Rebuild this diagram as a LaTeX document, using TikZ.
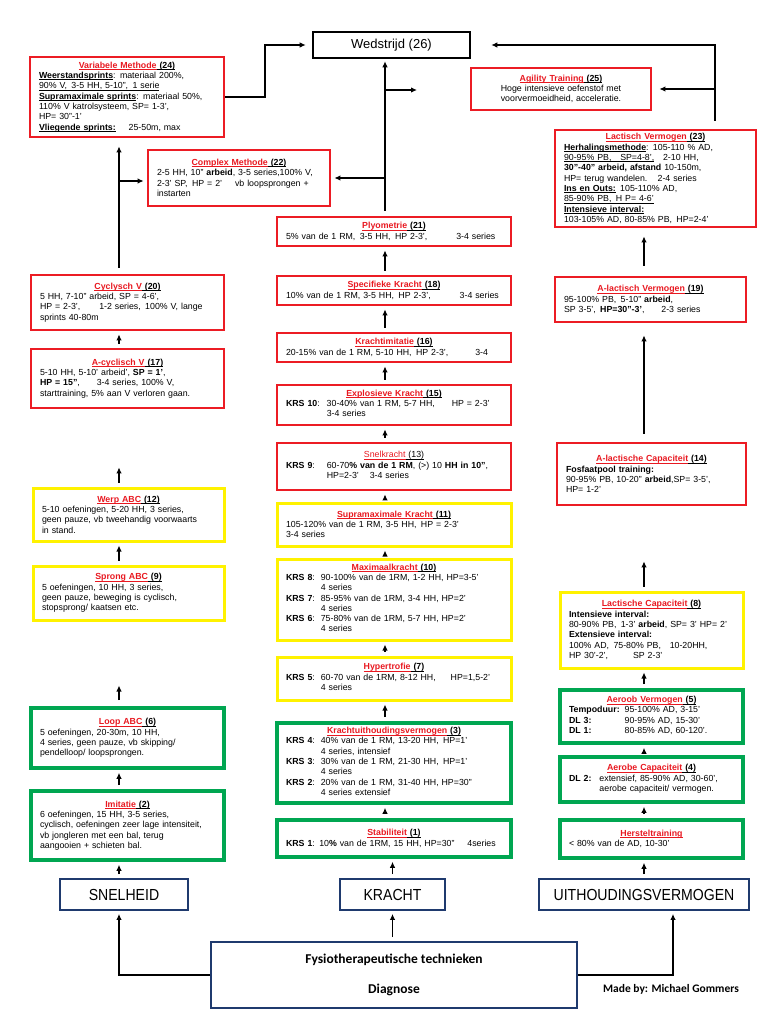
\documentclass[tikz,border=0pt]{standalone}
\usepackage{fontspec}
\setmainfont{Liberation Sans}
\newfontfamily\calibri{Carlito}
\usetikzlibrary{arrows.meta,positioning}
\definecolor{tred}{RGB}{232,24,32}
\definecolor{bred}{RGB}{236,28,36}
\definecolor{byel}{RGB}{255,242,0}
\definecolor{bgrn}{RGB}{0,166,81}
\definecolor{bblu}{RGB}{31,58,110}
\tikzset{
  box/.style={
    draw,
    shape = rectangle,
    inner xsep = 9pt,
    inner ysep = 1pt,
    align = left,
    font = \fontsize{8.8}{10.3}\selectfont
  },
  rbox/.style={box, draw=bred, line width=2.8pt},
  ybox/.style={box, draw=byel, line width=3pt},
  gbox/.style={box, draw=bgrn, line width=3.6pt},
  basebox/.style={
    draw = bblu,
    line width = 1.8pt,
    font = \fontsize{16}{18}\selectfont
  },
  topbox/.style={
    draw,
    line width = 2.6pt,
    font = \fontsize{13}{15}\selectfont
  },
  arr/.style={
    -{Latex[length=6pt,width=5.5pt]},
    line width = 1.1pt,
    shorten <= 4pt,
    shorten >= 3pt
  }
}
\newcommand{\ulc}[1]{\leavevmode\setbox0\hbox{#1}\rlap{\rule[-1.4pt]{\wd0}{0.6pt}}\box0}
\newcommand{\ttl}[2]{\centerline{\textcolor{tred}{\ulc{\bfseries #1}}\ulc{\textbf{\ (#2)}}}}
\newcommand{\hd}[1]{\ulc{\textbf{#1}}}
\newcommand{\narrow}[1]{\scalebox{0.88}[1]{#1}}
\begin{document}
\begin{tikzpicture}[x=1pt,y=-1pt]
    \useasboundingbox (0,0) rectangle (768,1024);
    \coordinate (lx) at (119,0);
    \coordinate (mx) at (385,0);
    \coordinate (rx) at (644,0);
    \coordinate (ux) at (673,0);
    % top
    \node[topbox, minimum width=157, minimum height=26] (wed) at (391.5,45) {Wedstrijd (26)};
    \node[rbox, minimum width=194, minimum height=80, text width=176pt] (varm) at (127,97) {\ttl{Variabele Methode}{24}
      \hd{Weerstandsprints}:\enspace materiaal 200\%,\\
      \ulc{90\% V,\enspace 3-5 HH, 5-10'',\enspace 1 serie}\\
      \hd{Supramaximale sprints}:\enspace materiaal 50\%,\\
      110\% V katrolsysteem, SP= 1-3',\\
      HP= 30''-1'\\
      \hd{Vliegende sprints:}\hspace{10pt} 25-50m, max};
    \node[rbox, minimum width=182, minimum height=56, text width=164pt] (cplx) at (239,178) {\ttl{Complex Methode}{22}
      2-5 HH, 10'' \textbf{arbeid}, 3-5 series,100\% V,\\
      2-3' SP,\, HP = 2'\hspace{10pt} vb loopsprongen +\\
      instarten};
    \node[rbox, align=center, minimum width=180, minimum height=42, text width=162pt] (agil) at (561,89) {\ttl{Agility Training}{25}
      Hoge intensieve oefenstof met\\
      voorvermoeidheid, acceleratie.};
    \node[rbox, minimum width=201, minimum height=97, text width=183pt] (lacv) at (655.5,178.5) {\ttl{Lactisch Vermogen}{23}
      \hd{Herhalingsmethode}: 105-110 \% AD,\\
      \ulc{90-95\% PB,\enspace\, SP=4-8',}\enspace\, 2-10 HH,\\
      \textbf{30''-40'' arbeid, afstand} 10-150m,\\
      HP= terug wandelen.\enspace\, 2-4 series\\
      \hd{Ins en Outs:}\, 105-110\% AD,\\
      \ulc{85-90\% PB,\enspace H P= 4-6'}\\
      \hd{Intensieve interval:}\\
      103-105\% AD, 80-85\% PB,\enspace HP=2-4'};
    % left column
    \node[rbox, minimum width=193, minimum height=55, text width=175pt] (cyc) at (127.5,302.5) {\ttl{Cyclysch V}{20}
      5 HH, 7-10'' arbeid, SP = 4-6',\\
      HP = 2-3',\hspace{16pt} 1-2 series,\, 100\% V, lange\\
      sprints 40-80m};
    \node[rbox, minimum width=193, minimum height=59, text width=175pt] (acyc) at (127.5,378.5) {\ttl{A-cyclisch V}{17}
      5-10 HH, 5-10' arbeid', \textbf{SP = 1'},\\
      \textbf{HP = 15''},\hspace{14pt} 3-4 series, 100\% V,\\
      starttraining, 5\% aan V verloren gaan.};
    \node[ybox, minimum width=191, minimum height=53, text width=173pt] (werp) at (128.5,514.5) {\ttl{Werp ABC}{12}
      5-10 oefeningen, 5-20 HH, 3 series,\\
      geen pauze, vb tweehandig voorwaarts\\
      in stand.};
    \node[ybox, minimum width=191, minimum height=54, text width=173pt] (sprong) at (128.5,593) {\ttl{Sprong ABC}{9}
      5 oefeningen, 10 HH, 3 series,\\
      geen pauze, beweging is cyclisch,\\
      stopsprong/ kaatsen etc.};
    \node[gbox, minimum width=193, minimum height=60, text width=175pt] (loop) at (127.5,738) {\ttl{Loop ABC}{6}
      5 oefeningen, 20-30m, 10 HH,\\
      4 series, geen pauze, vb skipping/\\
      pendelloop/ loopsprongen.};
    \node[gbox, minimum width=193, minimum height=69, text width=175pt] (imit) at (127.5,825.5) {\ttl{Imitatie}{2}
      6 oefeningen, 15 HH, 3-5 series,\\
      cyclisch, oefeningen zeer lage intensiteit,\\
      vb jongleren met een bal, terug\\
      aangooien + schieten bal.};
    % middle column
    \node[rbox, minimum width=234, minimum height=29, text width=216pt] (plyo) at (394,231.5) {\ttl{Plyometrie}{21}
      5\% van de 1 RM,\, 3-5 HH,\, HP 2-3',\hspace{26pt} 3-4 series};
    \node[rbox, minimum width=234, minimum height=29, text width=216pt] (spec) at (394,290.5) {\ttl{Specifieke Kracht}{18}
      10\% van de 1 RM, 3-5 HH,\, HP 2-3',\hspace{26pt} 3-4 series};
    \node[rbox, minimum width=234, minimum height=29, text width=216pt] (kimit) at (394,347.5) {\ttl{Krachtimitatie}{16}
      20-15\% van de 1 RM, 5-10 HH,\, HP 2-3',\hspace{24pt} 3-4};
    \node[rbox, minimum width=234, minimum height=40, text width=216pt] (expl) at (394,405) {\ttl{Explosieve Kracht}{15}
      \begin{tabular}{@{}l@{\hspace{7pt}}l@{}}
      \textbf{KRS 10}: & 30-40\% van 1 RM, 5-7 HH,\hspace{14pt} HP = 2-3'\\
       & 3-4 series
      \end{tabular}};
    \node[rbox, minimum width=234, minimum height=47, text width=216pt] (snelk) at (394,466.5) {\centerline{\textcolor{tred}{\ulc{Snelkracht}}\ulc{\ (13)}}
      \begin{tabular}{@{}l@{\hspace{12pt}}l@{}}
      \textbf{KRS 9}: & 60-70\textbf{\% van de 1 RM}, (>) 10 \textbf{HH in 10''},\\
       & HP=2-3'\hspace{8pt} 3-4 series
      \end{tabular}};
    \node[ybox, minimum width=234, minimum height=43, text width=216pt] (supra) at (394,524.5) {\ttl{Supramaximale Kracht}{11}
      105-120\% van de 1 RM, 3-5 HH,\, HP = 2-3'\\
      3-4 series};
    \node[ybox, minimum width=234, minimum height=81, text width=216pt] (maxk) at (394,599.5) {\ttl{Maximaalkracht}{10}
      \begin{tabular}{@{}l@{\hspace{6pt}}l@{}}
      \textbf{KRS 8}: & 90-100\% van de 1RM, 1-2 HH, HP=3-5'\\
       & 4 series\\
      \textbf{KRS 7}: & 85-95\% van de 1RM, 3-4 HH, HP=2'\\
       & 4 series\\
      \textbf{KRS 6}: & 75-80\% van de 1RM, 5-7 HH, HP=2'\\
       & 4 series
      \end{tabular}};
    \node[ybox, minimum width=234, minimum height=43, text width=216pt] (hyp) at (394,678.5) {\ttl{Hypertrofie}{7}
      \begin{tabular}{@{}l@{\hspace{6pt}}l@{}}
      \textbf{KRS 5}: & 60-70 van de 1RM, 8-12 HH,\hspace{12pt} HP=1,5-2'\\
       & 4 series
      \end{tabular}};
    \node[gbox, minimum width=234, minimum height=80, text width=216pt] (kuv) at (394,763) {\ttl{Krachtuithoudingsvermogen}{3}
      \begin{tabular}{@{}l@{\hspace{6pt}}l@{}}
      \textbf{KRS 4}: & 40\% van de 1 RM, 13-20 HH,\, HP=1'\\
       & 4 series, intensief\\
      \textbf{KRS 3}: & 30\% van de 1 RM, 21-30 HH,\, HP=1'\\
       & 4 series\\
      \textbf{KRS 2}: & 20\% van de 1 RM, 31-40 HH, HP=30''\\
       & 4 series extensief
      \end{tabular}};
    \node[gbox, minimum width=234, minimum height=37, text width=216pt] (stab) at (394,838.5) {\ttl{Stabiliteit}{1}
      \textbf{KRS 1}:\enspace 10\textbf{\%} van de 1RM, 15 HH, HP=30''\hspace{10pt} 4series};
    % right column
    \node[rbox, minimum width=191, minimum height=45, text width=173pt] (alv) at (650.5,299.5) {\ttl{A-lactisch Vermogen}{19}
      95-100\% PB,\enspace 5-10'' \textbf{arbeid},\\
      SP 3-5',\enspace \textbf{HP=30''-3'},\hspace{14pt} 2-3 series};
    \node[rbox, minimum width=189, minimum height=62, text width=171pt] (alc) at (651.5,474) {\ttl{A-lactische Capaciteit}{14}
      \textbf{Fosfaatpool training:}\\
      90-95\% PB, 10-20'' \textbf{arbeid},SP= 3-5',\\
      HP= 1-2'};
    \node[ybox, minimum width=183, minimum height=76, text width=165pt] (lc) at (651.5,630) {\ttl{Lactische Capaciteit}{8}
      \textbf{Intensieve interval:}\\
      80-90\% PB,\, 1-3' \textbf{arbeid}, SP= 3' HP= 2'\\
      \textbf{Extensieve interval:}\\
      100\% AD,\enspace 75-80\% PB,\enspace\, 10-20HH,\\
      HP 30'-2',\hspace{22pt} SP 2-3'};
    \node[gbox, minimum width=183, minimum height=53, text width=165pt] (aerv) at (651.5,716.5) {\ttl{Aeroob Vermogen}{5}
      \begin{tabular}{@{}l@{\hspace{5pt}}l@{}}
      \textbf{Tempoduur:} & 95-100\% AD, 3-15'\\
      \textbf{DL 3:} & 90-95\% AD, 15-30'\\
      \textbf{DL 1:} & 80-85\% AD, 60-120'.
      \end{tabular}};
    \node[gbox, minimum width=183, minimum height=45, text width=165pt] (aerc) at (651.5,779.5) {\ttl{Aerobe Capaciteit}{4}
      \begin{tabular}{@{}l@{\hspace{8pt}}l@{}}
      \textbf{DL 2:} & extensief, 85-90\% AD, 30-60',\\
       & aerobe capaciteit/ vermogen.
      \end{tabular}};
    \node[gbox, minimum width=183, minimum height=38, text width=165pt] (hers) at (651.5,839) {\centerline{\textcolor{tred}{\ulc{\bfseries Hersteltraining}}}
      < 80\% van de AD, 10-30'};
    % base
    \node[basebox, minimum width=128, minimum height=31] (snel) at (124,894.5) {\narrow{SNELHEID}};
    \node[basebox, minimum width=105, minimum height=31] (kr) at (392.5,894.5) {\narrow{KRACHT}};
    \node[basebox, minimum width=210, minimum height=31] (uit) at (644,894.5) {\narrow{UITHOUDINGSVERMOGEN}};
    \node[basebox, align=center, minimum width=366, minimum height=66, font=\calibri\bfseries\fontsize{13.5}{16}\selectfont] (fys) at (394,975) {Fysiotherapeutische technieken\\[14pt] Diagnose};
    \node[font=\calibri\bfseries\fontsize{11.5}{13}\selectfont] (made) at (671,989) {Made by: Michael Gommers};
    % connectors
    \foreach \a/\b in {stab/kuv, kuv/hyp, hyp/maxk, maxk/supra, supra/snelk, snelk/expl, expl/kimit, kimit/spec, spec/plyo}{
    \draw[arr] (\a.north -| mx) -- (\b.south -| mx);}
    \foreach \a/\b in {snel/imit, imit/loop, sprong/werp, acyc/cyc}{
    \draw[arr] (\a.north -| lx) -- (\b.south -| lx);}
    \foreach \a/\b in {uit/hers, hers/aerc, aerc/aerv, aerv/lc}{
    \draw[arr] (\a.north -| rx) -- (\b.south -| rx);}
    \draw[arr] (kr.north) -- (stab.south -| kr.north);
    \draw[arr, shorten <=6pt, shorten >=64pt] (loop.north -| lx) -- (sprong.south -| lx);
    \draw[arr, shorten >=58pt] (werp.north -| lx) -- (acyc.south -| lx);
    \draw[arr, shorten >=55pt] (lc.north -| rx) -- (alc.south -| rx);
    \draw[arr, shorten <=8pt, shorten >=12pt] (alc.north -| rx) -- (alv.south -| rx);
    \draw[arr, shorten <=10pt, shorten >=8pt] (alv.north -| rx) -- (lacv.south -| rx);
    \draw[arr, shorten <=0pt] (fys.west) -| (snel.south -| lx);
    \draw[arr, shorten <=0pt] (fys.east) -| (uit.south -| ux);
    \draw[arr] (fys.north -| kr.south) -- (kr.south);
    % towards Wedstrijd
    \coordinate (tl) at (265,45);
    \coordinate (tr) at (715,45);
    \coordinate (ag) at (715,89);
    \coordinate (cb) at (385,90);
    \coordinate (cbe) at (420,90);
    \coordinate (cx) at (385,178);
    \coordinate (lb) at (119,181);
    \draw[arr, shorten <=5pt, shorten >=2pt] (plyo.north -| mx) -- (wed.south -| mx);
    \draw[arr, shorten <=0pt] (cb) -- (cbe);
    \draw[arr, shorten <=0pt] (cx) -- (cplx.east |- cx);
    \draw[arr, shorten <=6pt, shorten >=8pt] (cyc.north -| lx) -- (varm.south -| lx);
    \draw[arr, shorten <=0pt] (lb) -- (cplx.west |- lb);
    \draw[arr, shorten <=0pt, shorten >=6pt] (varm.east) -| (tl) -- (wed.west);
    \draw[arr, shorten <=8pt, shorten >=20pt] (lacv.north -| tr) -- (tr) -- (wed.east);
    \draw[arr, shorten <=0pt, shorten >=7pt] (ag) -- (agil.east |- ag);
\end{tikzpicture}
\end{document}
